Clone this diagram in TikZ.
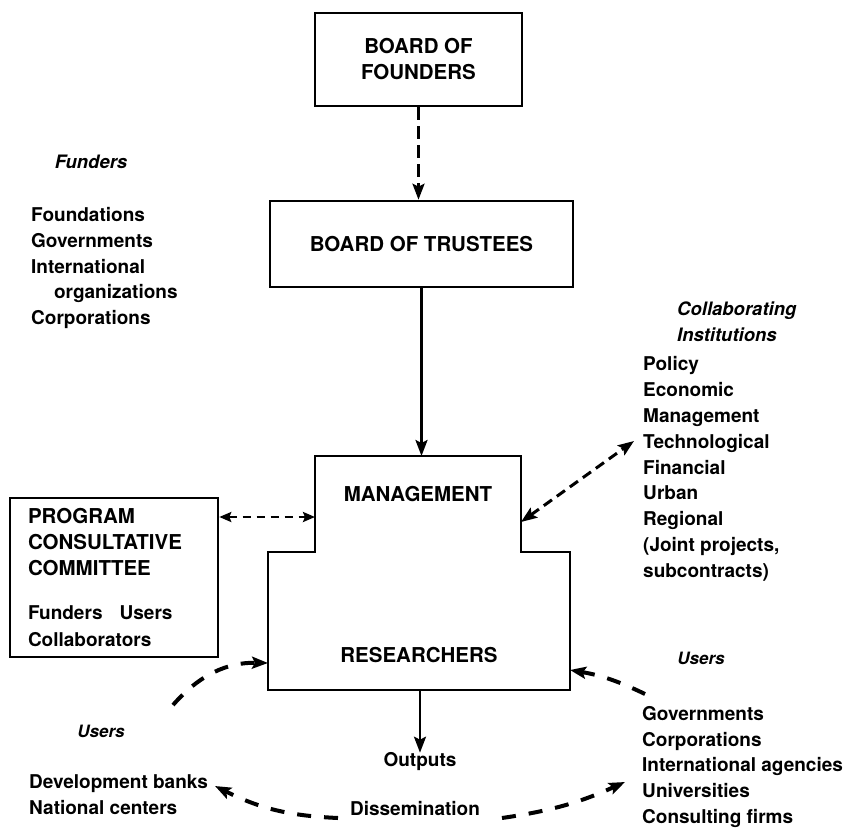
\documentclass[tikz,border=0pt]{standalone}
\usepackage{fontspec}
\setmainfont{TeX Gyre Heros}
\usetikzlibrary{arrows.meta}
\newcommand{\capsfont}{\bfseries\fontsize{20.5}{26}\selectfont}
\newcommand{\listfont}{\bfseries\fontsize{19}{25.8}\selectfont}
\newcommand{\headfont}{\bfseries\itshape\fontsize{18.5}{26}\selectfont}
\tikzset{
    box/.style={draw, line width=2.6pt, align=center, font=\capsfont},
    listnode/.style={anchor=west, align=left, font=\listfont, inner sep=0pt},
    headnode/.style={font=\headfont, inner sep=0pt},
    founderdash/.style={line width=2.8pt, dash pattern=on 13pt off 6pt},
    thindash/.style={line width=2.4pt, dash pattern=on 8pt off 6pt},
    middash/.style={line width=3pt, dash pattern=on 10pt off 6pt},
    thickdash/.style={line width=4pt, dash pattern=on 14pt off 13pt}
}
\begin{document}
\begin{tikzpicture}[x=1pt,y=-1pt,>={Stealth[length=16pt,width=12pt,inset=3pt]}]
    \useasboundingbox (0,0) rectangle (846,828);
    \node[box, minimum width=207pt, minimum height=93pt] (founders) at (418.5,59.5) {BOARD OF\\FOUNDERS};
    \node[box, minimum width=303pt, minimum height=86pt] (trustees) at (421.5,244) {BOARD OF TRUSTEES};
    \draw[line width=2.6pt] (315,456) -- (521,456) -- (521,552) -- (570,552) -- (570,690) -- (268,690) -- (268,552) -- (315,552) -- cycle;
    \coordinate (mgmttop) at (420,456);
    \coordinate (mgmtleft) at (315,517);
    \coordinate (mgmtright) at (521,522);
    \coordinate (resleft) at (268,663);
    \coordinate (resright) at (570,670);
    \coordinate (resbottom) at (420,690);
    \node[font=\capsfont] (management) at (418,494) {MANAGEMENT};
    \node[font=\capsfont] (researchers) at (419,655) {RESEARCHERS};
    \node[box, minimum width=208pt, minimum height=159pt, text width=172pt, align=left, inner sep=0pt] (pcc) at (114,577.5)
        {PROGRAM\\CONSULTATIVE\\COMMITTEE\\[18pt]{\listfont Funders\hspace{0.9em}Users}\\[1pt]{\listfont Collaborators}};
    \node[headnode] (fundershead) at (91,162) {Funders};
    \node[listnode] (funderslist) at (31,268) {Foundations\\Governments\\International\\\hspace*{1.2em}organizations\\Corporations};
    \node[headnode, anchor=west, align=left] (collabhead) at (677,322) {Collaborating\\Institutions};
    \node[listnode] (collablist) at (643,469) {Policy\\Economic\\Management\\Technological\\Financial\\Urban\\Regional\\(Joint projects,\\subcontracts)};
    \node[headnode, font=\bfseries\itshape\fontsize{17}{20}\selectfont] (usershead) at (701,658) {Users};
    \node[listnode] (userslist) at (642,767) {Governments\\Corporations\\International agencies\\Universities\\Consulting firms};
    \node[headnode, font=\bfseries\itshape\fontsize{17}{20}\selectfont] (leftusershead) at (101,731) {Users};
    \node[listnode] (leftuserslist) at (29,795) {Development banks\\National centers};
    \node[font=\listfont, inner sep=0pt] (outputs) at (420,762) {Outputs};
    \node[font=\listfont, inner sep=0pt] (dissemination) at (415,808) {Dissemination};
    \coordinate (techleft) at (634,441);
    \coordinate (devright) at (215,786);
    \coordinate (uniright) at (625,782);
    \coordinate (dissleft) at (338,818);
    \coordinate (dissright) at (502,818);
    \coordinate (leftloop) at (173,705);
    \coordinate (rightloop) at (645,694);
    \draw[founderdash, ->] (founders.south) -- (founders.south |- trustees.north);
    \draw[line width=2.6pt, ->] (trustees.south) -- (trustees.south |- mgmttop);
    \draw[thindash, {Stealth[length=12pt,width=10pt,inset=2pt]}-{Stealth[length=12pt,width=10pt,inset=2pt]}] (pcc.east |- mgmtleft) -- (mgmtleft);
    \draw[middash, <->] (mgmtright) -- (techleft);
    \draw[line width=2.6pt, ->] (resbottom) -- (outputs.north);
    \draw[thickdash, ->] (dissleft) to[bend left=12] (devright);
    \draw[thickdash, ->] (dissright) to[bend right=8] (uniright);
    \draw[thickdash, ->] (leftloop) to[bend left=25] (resleft);
    \draw[thickdash, ->] (rightloop) to[bend right=8] (resright);
\end{tikzpicture}
\end{document}
